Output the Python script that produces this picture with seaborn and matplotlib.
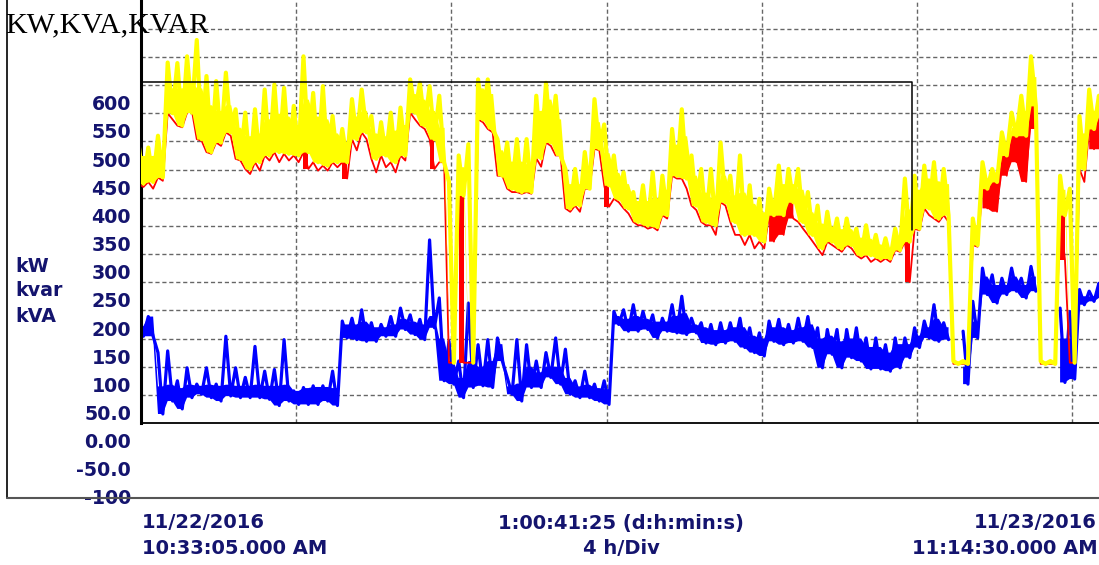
import numpy as np
import pandas as pd
import seaborn as sns
import matplotlib.pyplot as plt
from matplotlib.lines import Line2D
from matplotlib import transforms

# sample times in hours after 11/22/2016 10:33:05, one sample per 15 min
hours = np.arange(100) * 0.25
span_hours = 24 + 41 / 60 + 25 / 3600

# kVA (yellow): spike tops, top of the dense band, bottom
kva_hi = [545, 539, 560, 690, 689, 701, 730, 666, 657, 672,
          607, 601, 607, 642, 651, 645, 613, 701, 636, 648,
          595, 572, 625, 642, 595, 584, 601, 610, 660, 654,
          648, 631, 478, 525, 545, 660, 660, 554, 548, 554,
          554, 631, 654, 631, 501, 501, 531, 625, 580, 525,
          495, 460, 472, 495, 489, 572, 607, 525, 501, 501,
          548, 489, 525, 472, 448, 466, 507, 501, 501, 460,
          436, 425, 413, 413, 395, 401, 384, 378, 395, 484,
          489, 507, 513, 501, 160, 160, 413, 513, 501, 566,
          601, 631, 701, 160, 160, 489, 466, 595, 642, 631]
kva_body = [525, 525, 535, 645, 645, 655, 645, 615, 605, 615,
            575, 560, 565, 590, 600, 595, 580, 625, 595, 590,
            565, 550, 595, 605, 565, 560, 570, 580, 635, 625,
            605, 575, 157, 505, 157, 645, 635, 535, 515, 515,
            510, 605, 625, 590, 475, 475, 505, 585, 530, 495,
            475, 445, 445, 450, 465, 545, 560, 490, 460, 450,
            490, 455, 460, 440, 425, 445, 475, 475, 465, 425,
            405, 400, 395, 395, 380, 378, 368, 362, 378, 430,
            465, 485, 480, 475, 160, 160, 402, 485, 492, 545,
            575, 605, 665, 160, 160, 465, 157, 565, 605, 620]
kva_lo = [475, 478, 486, 600, 578, 601, 554, 531, 548, 566,
          519, 501, 513, 525, 531, 528, 525, 531, 513, 507,
          513, 513, 554, 566, 519, 525, 513, 525, 601, 578,
          554, 513, 157, 454, 157, 589, 572, 489, 466, 460,
          460, 520, 548, 525, 431, 436, 466, 537, 472, 448,
          431, 407, 401, 398, 419, 489, 484, 436, 407, 401,
          442, 407, 384, 384, 372, 419, 419, 442, 407, 384,
          360, 372, 360, 366, 348, 348, 342, 342, 357, 372,
          395, 431, 413, 419, 155, 155, 366, 466, 478, 525,
          560, 560, 613, 155, 155, 419, 157, 501, 572, 595]
# kW (red) lower edge, shows under the kVA trace
kw_lo = [469, 466, 480, 589, 575, 604, 551, 528, 542, 560,
         516, 492, 498, 516, 513, 516, 513, 501, 498, 498,
         504, 484, 534, 554, 495, 504, 495, 516, 589, 572,
         501, 513, 157, 157, 157, 584, 566, 489, 460, 457,
         457, 505, 542, 525, 425, 425, 466, 534, 434, 442,
         422, 401, 395, 392, 413, 484, 466, 428, 401, 384,
         436, 384, 366, 360, 360, 372, 384, 413, 395, 372,
         348, 366, 354, 360, 342, 336, 336, 336, 354, 300,
         392, 419, 407, 407, 155, 155, 363, 431, 425, 489,
         513, 478, 572, 155, 155, 340, 157, 478, 536, 536]
# kvar (blue): spike tops, top of the dense band, bottom
kvar_hi = [222, 239, 175, 178, 125, 148, 119, 148, 119, 204,
           148, 131, 186, 142, 145, 198, 107, 113, 116, 116,
           142, 231, 236, 251, 228, 225, 239, 254, 242, 234,
           375, 272, 195, 160, 263, 189, 198, 201, 131, 198,
           189, 160, 175, 201, 181, 125, 142, 119, 125, 248,
           251, 260, 248, 242, 236, 260, 275, 236, 228, 225,
           228, 228, 236, 219, 210, 231, 234, 225, 236, 239,
           219, 216, 216, 216, 219, 201, 201, 189, 201, 201,
           219, 231, 260, 228, np.nan, 213, 266, 325, 313, 307,
           325, 307, 328, np.nan, np.nan, 254, 248, 287, 284, 298]
kvar_body = [222, 239, 115, 118, 112, 118, 116, 118, 116, 118,
             116, 116, 118, 116, 116, 118, 107, 112, 114, 114,
             112, 225, 225, 230, 220, 220, 225, 235, 230, 225,
             240, 200, 160, 130, 160, 150, 160, 190, 115, 120,
             150, 140, 150, 150, 130, 115, 118, 112, 110, 240,
             235, 240, 235, 230, 230, 240, 245, 225, 220, 215,
             215, 220, 220, 205, 200, 220, 220, 215, 220, 225,
             200, 205, 195, 200, 200, 185, 185, 175, 190, 190,
             205, 220, 235, 220, np.nan, 150, 230, 310, 295, 295,
             310, 295, 310, np.nan, np.nan, 200, 200, 275, 275, 290]
kvar_lo = [204, 204, 66, 89, 75, 95, 101, 95, 89, 98,
           95, 95, 95, 92, 81, 89, 83, 83, 83, 89,
           81, 201, 198, 195, 195, 204, 204, 216, 207, 198,
           219, 125, 119, 95, 113, 116, 113, 160, 101, 89,
           113, 113, 131, 119, 101, 95, 95, 89, 83, 225,
           213, 213, 216, 201, 213, 210, 207, 210, 192, 189,
           192, 195, 184, 175, 169, 195, 189, 192, 195, 184,
           148, 172, 148, 166, 160, 146, 146, 142, 148, 166,
           184, 201, 195, 198, np.nan, 119, 201, 278, 263, 278,
           284, 272, 284, np.nan, np.nan, 122, 128, 260, 266, 272]

grid_hours = [4, 8, 12, 16, 20, 24]
grid_values = list(range(100, 751, 50))
label_values = [600, 550, 500, 450, 400, 350, 300, 250, 200, 150, 100, 50, 0, -50, -100]
label_texts = ['600', '550', '500', '450', '400', '350', '300', '250', '200',
               '150', '100', '50.0', '0.00', '-50.0', '-100']
box_top, box_right, box_bottom = 656, 19.87, 392

navy = '#14146e'


def zigzag(first, second):
    # each sample drawn as a quick swing from one envelope value to the other
    t = np.column_stack([hours - 0.0625, hours + 0.0625]).ravel()
    v = np.column_stack([first, second]).ravel()
    return pd.DataFrame({'t': t, 'v': v, 'seg': np.cumsum(np.isnan(v))})


sns.set_style('white')
plt.rcParams['font.family'] = ['DejaVu Sans']

fig = plt.figure(figsize=(10.99, 5.65), dpi=100)
ax = fig.add_axes([141 / 1099, 142 / 565, 958 / 1099, 423 / 565])

zz_t = np.column_stack([hours - 0.0625, hours + 0.0625]).ravel()

# kvar: dense band plus the spikes above it
ax.fill_between(zz_t, np.repeat(kvar_lo, 2), np.repeat(kvar_body, 2), color='#0000ff', lw=0, zorder=2)
sns.lineplot(data=zigzag(kvar_hi, kvar_lo), x='t', y='v', units='seg', estimator=None,
             sort=False, color='#0000ff', lw=2.3, ax=ax, zorder=2)

# kW, mostly hidden below kVA
kw_gap = np.repeat(np.array(kva_lo) - np.array(kw_lo), 2)
ax.fill_between(zz_t, np.repeat(kw_lo, 2), np.repeat(kva_lo, 2), where=kw_gap > 25,
                color='#ff0000', lw=0, zorder=3)
sns.lineplot(data=zigzag(kva_lo, kw_lo), x='t', y='v', units='seg', estimator=None,
             sort=False, color='#ff0000', lw=1.3, ax=ax, zorder=3)

# kVA: dense band plus the spikes above it
ax.fill_between(zz_t, np.repeat(kva_lo, 2), np.repeat(kva_body, 2), color='#ffff00', lw=0, zorder=4)
sns.lineplot(data=zigzag(kva_hi, kva_lo), x='t', y='v', units='seg', estimator=None,
             sort=False, color='#ffff00', lw=3.0, ax=ax, zorder=4)

# zoom box left over from the meter software
ax.plot([0, box_right, box_right], [box_top, box_top, box_bottom], color='black', lw=1.1, zorder=6)

ax.set_xlim(0, span_hours)
ax.set_ylim(50, 801)
ax.set_xticks(grid_hours)
ax.set_yticks(grid_values)
ax.grid(True, ls=(0, (3, 2)), color='#666666', lw=1.0)
ax.tick_params(labelleft=False, labelbottom=False, length=0)
ax.set_xlabel('')
ax.set_ylabel('')
for s in ['top', 'right']:
    ax.spines[s].set_visible(False)
ax.spines['left'].set_linewidth(2.2)
ax.spines['left'].set_color('black')
ax.spines['bottom'].set_linewidth(1.3)
ax.spines['bottom'].set_color('black')
ax.set_axisbelow(True)

# value labels sit a little above their grid lines
lab_tr = transforms.offset_copy(ax.get_yaxis_transform(), fig=fig, x=0, y=8.5, units='dots')
for v, s in zip(label_values, label_texts):
    ax.text(-0.0105, v, s, transform=lab_tr, ha='right', va='center', fontsize=13.7,
            fontweight='bold', color=navy, clip_on=False)

for y, s in zip([266, 291, 316], ['kW', 'kvar', 'kVA']):
    fig.text(15 / 1099, 1 - y / 565, s, ha='left', va='center', fontsize=13.7,
             fontweight='bold', color=navy)

fig.text(5 / 1099, 1 - 32 / 565, 'KW,KVA,KVAR', ha='left', va='baseline', fontsize=21.5,
         family='Liberation Serif', color='black')

bottom = [(142, 523, '11/22/2016', 'left'), (142, 549, '10:33:05.000 AM', 'left'),
          (621, 523, '1:00:41:25 (d:h:min:s)', 'center'), (621, 549, '4 h/Div', 'center'),
          (1097, 523, '11/23/2016', 'right'), (1098, 549, '11:14:30.000 AM', 'right')]
for x, y, s, ha in bottom:
    fig.text(x / 1099, 1 - y / 565, s, ha=ha, va='center', fontsize=14,
             fontweight='bold', color=navy)

# outer frame
fig.add_artist(Line2D([7 / 1099, 7 / 1099], [1, 1 - 498 / 565], color='black', lw=1.2))
fig.add_artist(Line2D([7 / 1099, 1], [1 - 498 / 565, 1 - 498 / 565], color='#555555', lw=1.5))

fig.savefig('out.png', dpi=100)
